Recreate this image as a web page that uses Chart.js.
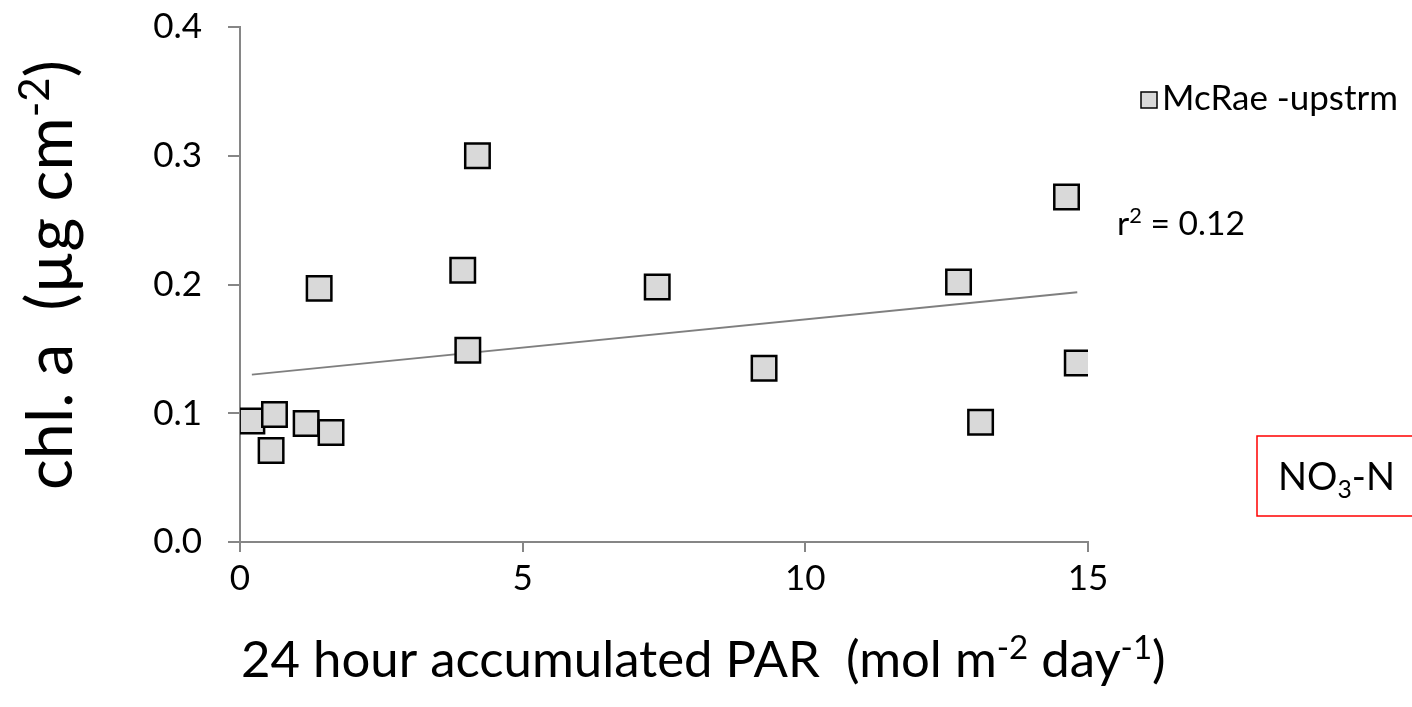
<!DOCTYPE html>
<html>
<head>
<meta charset="utf-8">
<script src="https://cdn.jsdelivr.net/npm/chart.js@4.4.1/dist/chart.umd.min.js"></script>
<style>
  html, body { margin: 0; padding: 0; background: #fff; }
  #wrap { width: 1412px; height: 707px; }
</style>
</head>
<body>
<div id="wrap"><canvas id="chart" width="1412" height="707"></canvas></div>
<script>
// values
const parValues = [0.21, 0.61, 0.55, 1.17, 1.61, 1.40, 3.94, 4.03, 4.20, 7.38, 9.27, 12.71, 13.10, 14.62, 14.81];
const chlValues = [0.094, 0.099, 0.071, 0.092, 0.085, 0.197, 0.211, 0.149, 0.300, 0.198, 0.135, 0.202, 0.093, 0.268, 0.139];
const trendX = [0.21, 14.81];
const trendY = [0.130, 0.194];
const xTicks = [0, 5, 10, 15];
const yTicks = [0.0, 0.1, 0.2, 0.3, 0.4];
const seriesName = 'McRae -upstrm';
const r2Value = '0.12';

const FONT = 'Lato, "Open Sans", sans-serif';

// draws a row of text pieces, some raised or lowered
function drawRuns(ctx, runs, x, y, size) {
  let cx = x;
  runs.forEach(r => {
    const s = r.sup || r.sub ? size * 0.65 : size;
    ctx.font = s + 'px ' + FONT;
    const dy = r.sup ? -size * 0.36 : r.sub ? size * 0.2 : 0;
    ctx.fillText(r.t, cx, y + dy);
    cx += ctx.measureText(r.t).width;
  });
  return cx - x;
}
function runsWidth(ctx, runs, size) {
  let w = 0;
  runs.forEach(r => {
    const s = r.sup || r.sub ? size * 0.65 : size;
    ctx.font = s + 'px ' + FONT;
    w += ctx.measureText(r.t).width;
  });
  return w;
}
function fitSize(ctx, runs, target, base) {
  return base * target / runsWidth(ctx, runs, base);
}

const extras = {
  id: 'extras',
  afterDraw(chart) {
    const ctx = chart.ctx;
    ctx.save();
    ctx.fillStyle = '#000';
    ctx.textBaseline = 'alphabetic';
    ctx.textAlign = 'left';

    // x axis title
    const xRuns = [{t: '24 hour accumulated PAR  (mol m'}, {t: '-2', sup: true}, {t: ' day'}, {t: '-1', sup: true}, {t: ')'}];
    const xs = fitSize(ctx, xRuns, 925, 40);
    drawRuns(ctx, xRuns, 241, 677, xs);

    // y axis title, rotated
    const yRuns = [{t: 'chl. a  (µg cm'}, {t: '-2', sup: true}, {t: ')'}];
    const ys = fitSize(ctx, yRuns, 430, 46);
    ctx.save();
    ctx.translate(72, 490);
    ctx.rotate(-Math.PI / 2);
    drawRuns(ctx, yRuns, 0, 0, ys);
    ctx.restore();

    // legend
    const ds = chart.data.datasets[0];
    ctx.fillStyle = ds.backgroundColor;
    ctx.strokeStyle = ds.borderColor;
    ctx.lineWidth = 1.5;
    ctx.fillRect(1141, 92, 16, 16);
    ctx.strokeRect(1141, 92, 16, 16);
    ctx.fillStyle = '#000';
    const lRuns = [{t: seriesName}];
    drawRuns(ctx, lRuns, 1162, 110, fitSize(ctx, lRuns, 236, 30));

    // r squared
    const rRuns = [{t: 'r'}, {t: '2', sup: true}, {t: ' = ' + r2Value}];
    drawRuns(ctx, rRuns, 1117, 235, fitSize(ctx, rRuns, 128, 28));

    // NO3-N box
    ctx.strokeStyle = '#ff0000';
    ctx.lineWidth = 1.5;
    ctx.strokeRect(1257, 436, 170, 80);
    const nRuns = [{t: 'NO'}, {t: '3', sub: true}, {t: '-N'}];
    drawRuns(ctx, nRuns, 1278, 490, fitSize(ctx, nRuns, 117, 36));
    ctx.restore();
  }
};

new Chart(document.getElementById('chart'), {
  type: 'scatter',
  data: {
    datasets: [
      {
        label: seriesName,
        data: parValues.map((x, i) => ({x: x, y: chlValues[i]})),
        pointStyle: 'rect',
        pointRadius: 17.3,
        backgroundColor: '#d9d9d9',
        borderColor: '#000000',
        borderWidth: 2.5,
        order: 1
      },
      {
        label: 'trend',
        data: trendX.map((x, i) => ({x: x, y: trendY[i]})),
        showLine: true,
        pointRadius: 0,
        borderColor: '#7f7f7f',
        borderWidth: 2,
        order: 2
      }
    ]
  },
  options: {
    responsive: false,
    animation: false,
    devicePixelRatio: 1,
    layout: { padding: { left: 0, top: 27, right: 324, bottom: 0 } },
    plugins: { legend: { display: false }, tooltip: { enabled: false } },
    scales: {
      x: {
        type: 'linear',
        min: 0, max: 15,
        afterBuildTicks: s => { s.ticks = xTicks.map(v => ({value: v})); },
        afterFit: s => { s.height = 165; },
        grid: { drawOnChartArea: false, drawTicks: true, tickLength: 10, color: '#868686', lineWidth: 2 },
        border: { color: '#868686', width: 2 },
        ticks: { color: '#000', font: { family: FONT, size: 35 }, padding: 6, maxRotation: 0 }
      },
      y: {
        min: 0, max: 0.4,
        afterBuildTicks: s => { s.ticks = yTicks.map(v => ({value: v})); },
        afterFit: s => { s.width = 240; s.paddingTop = 10; s.paddingBottom = 10; },
        grid: { drawOnChartArea: false, drawTicks: true, tickLength: 12, color: '#868686', lineWidth: 2 },
        border: { color: '#868686', width: 2 },
        ticks: { color: '#000', font: { family: FONT, size: 35 }, padding: 26, callback: v => v.toFixed(1) }
      }
    }
  },
  plugins: [extras]
});
</script>
</body>
</html>
